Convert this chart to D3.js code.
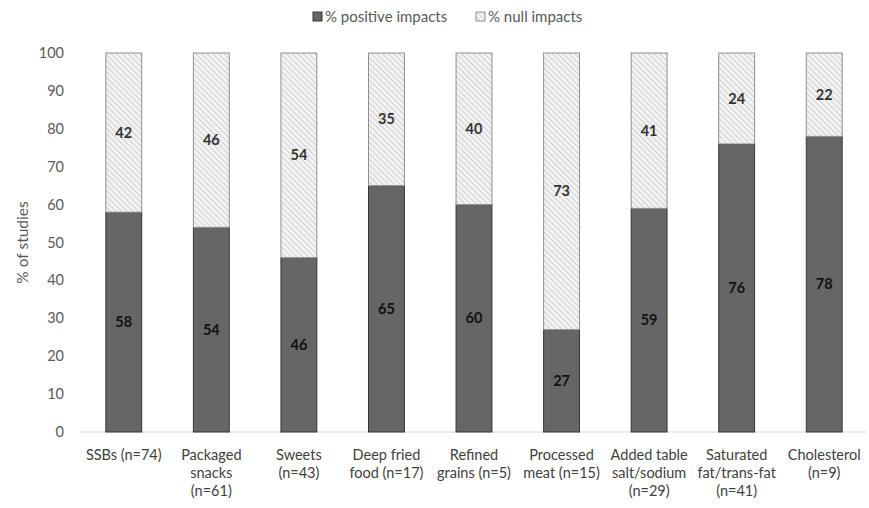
<!DOCTYPE html>
<html>
<head>
<meta charset="utf-8">
<script src="https://cdn.jsdelivr.net/npm/d3@7"></script>
<style>
body { margin: 0; background: white; }
svg text { font-family: Lato, "Open Sans", sans-serif; }
</style>
</head>
<body>
<div id="chart"></div>
<script>
// chart data
const categories = ["SSBs (n=74)", "Packaged snacks (n=61)", "Sweets (n=43)", "Deep fried food (n=17)",
    "Refined grains (n=5)", "Processed meat (n=15)", "Added table salt/sodium (n=29)",
    "Saturated fat/trans-fat (n=41)", "Cholesterol (n=9)"];
// wrapped lines as they appear under the axis
const labelLines = [["SSBs (n=74)"], ["Packaged", "snacks", "(n=61)"], ["Sweets", "(n=43)"],
    ["Deep fried", "food (n=17)"], ["Refined", "grains (n=5)"], ["Processed", "meat (n=15)"],
    ["Added table", "salt/sodium", "(n=29)"], ["Saturated", "fat/trans-fat", "(n=41)"], ["Cholesterol", "(n=9)"]];
const positive = [58, 54, 46, 65, 60, 27, 59, 76, 78];
const nullImpacts = [42, 46, 54, 35, 40, 73, 41, 24, 22];
const yTicks = [0, 10, 20, 30, 40, 50, 60, 70, 80, 90, 100];
const seriesNames = ["% positive impacts", "% null impacts"];

const width = 869, height = 508;
const margin = {top: 53, left: 80, right: 1, bottom: 76};

const svg = d3.select("#chart").append("svg")
    .attr("width", width)
    .attr("height", height);

const defs = svg.append("defs");
const pat = defs.append("pattern")
    .attr("id", "hatch")
    .attr("patternUnits", "userSpaceOnUse")
    .attr("width", 4).attr("height", 4)
    .attr("patternTransform", "rotate(-45)");
pat.append("rect").attr("width", 4).attr("height", 4).attr("fill", "#f3f3f3");
pat.append("line").attr("x1", 0).attr("y1", 0).attr("x2", 0).attr("y2", 4)
    .attr("stroke", "#bdbdbd").attr("stroke-width", 1.3);

const x = d3.scaleBand()
    .domain(categories)
    .range([margin.left, width - margin.right])
    .paddingInner(0.59)
    .paddingOuter(0.295);

const y = d3.scaleLinear()
    .domain([0, 100])
    .range([height - margin.bottom, margin.top]);

// y axis labels
svg.append("g").selectAll("text")
    .data(yTicks)
    .join("text")
    .attr("x", 64)
    .attr("y", d => y(d))
    .attr("dy", "0.35em")
    .attr("text-anchor", "end")
    .attr("fill", "#595959")
    .attr("font-size", 14.5)
    .text(d => d);

svg.append("text")
    .attr("transform", `translate(28,${(y(0) + y(100)) / 2}) rotate(-90)`)
    .attr("text-anchor", "middle")
    .attr("fill", "#595959")
    .attr("font-size", 15.5)
    .text("% of studies");

// baseline
svg.append("line")
    .attr("x1", margin.left).attr("x2", width - 3)
    .attr("y1", y(0)).attr("y2", y(0))
    .attr("stroke", "#d9d9d9").attr("stroke-width", 1);

const rows = categories.map((c, i) => ({cat: c, pos: positive[i], nul: nullImpacts[i]}));

// positive segment
svg.append("g").selectAll("rect")
    .data(rows)
    .join("rect")
    .attr("x", d => x(d.cat))
    .attr("width", x.bandwidth())
    .attr("y", d => y(d.pos))
    .attr("height", d => y(0) - y(d.pos))
    .attr("fill", "#666666")
    .attr("stroke", "#363636")
    .attr("stroke-width", 1);

// null segment
svg.append("g").selectAll("rect")
    .data(rows)
    .join("rect")
    .attr("x", d => x(d.cat))
    .attr("width", x.bandwidth())
    .attr("y", d => y(d.pos + d.nul))
    .attr("height", d => y(d.pos) - y(d.pos + d.nul))
    .attr("fill", "url(#hatch)")
    .attr("stroke", "#8f8f8f")
    .attr("stroke-width", 1);

// value labels
svg.append("g").selectAll("text")
    .data(rows)
    .join("text")
    .attr("x", d => x(d.cat) + x.bandwidth() / 2)
    .attr("y", d => y(d.pos / 2))
    .attr("dy", "0.35em")
    .attr("text-anchor", "middle")
    .attr("font-weight", "bold")
    .attr("font-size", 14.5)
    .attr("fill", "#111")
    .text(d => d.pos);

svg.append("g").selectAll("text")
    .data(rows)
    .join("text")
    .attr("x", d => x(d.cat) + x.bandwidth() / 2)
    .attr("y", d => y(d.pos + d.nul / 2))
    .attr("dy", "0.35em")
    .attr("text-anchor", "middle")
    .attr("font-weight", "bold")
    .attr("font-size", 14.5)
    .attr("fill", "#333")
    .text(d => d.nul);

// category labels
const catG = svg.append("g").selectAll("text")
    .data(rows)
    .join("text")
    .attr("x", d => x(d.cat) + x.bandwidth() / 2)
    .attr("y", 460)
    .attr("text-anchor", "middle")
    .attr("fill", "#404040")
    .attr("font-size", 14.5);
catG.each(function (d, i) {
    d3.select(this).selectAll("tspan")
        .data(labelLines[i])
        .join("tspan")
        .attr("x", x(d.cat) + x.bandwidth() / 2)
        .attr("dy", (l, j) => j === 0 ? 0 : 18)
        .text(l => l);
});

// legend
const legend = svg.append("g");
const legendX = [313, 476];
legend.selectAll("rect")
    .data(seriesNames)
    .join("rect")
    .attr("x", (d, i) => legendX[i])
    .attr("y", 12)
    .attr("width", 9).attr("height", 9)
    .attr("fill", (d, i) => i === 0 ? "#666666" : "url(#hatch)")
    .attr("stroke", (d, i) => i === 0 ? "#363636" : "#8f8f8f");
legend.selectAll("text")
    .data(seriesNames)
    .join("text")
    .attr("x", (d, i) => legendX[i] + 12)
    .attr("y", 17)
    .attr("dy", "0.35em")
    .attr("fill", "#595959")
    .attr("font-size", 15)
    .text(d => d);
</script>
</body>
</html>
